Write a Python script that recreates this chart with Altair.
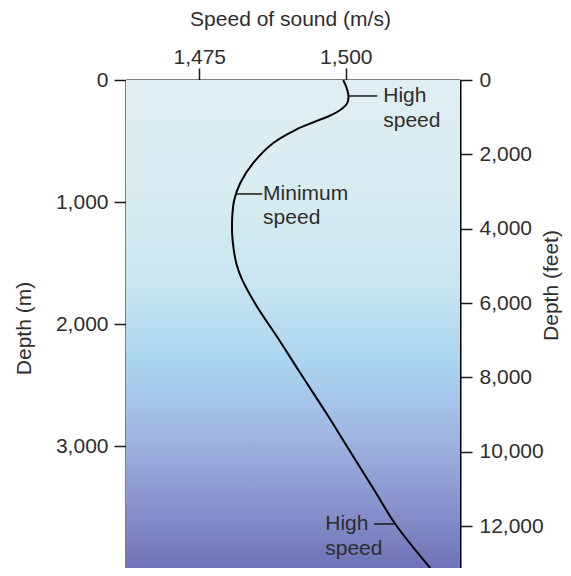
import altair as alt
import pandas as pd

# ---- data ----
curve_speed = [1499.57, 1500.17, 1500.48, 1500.17, 1499.06, 1497.18, 1494.62, 1491.38,
               1487.63, 1484.22, 1482.0, 1480.97, 1480.63, 1480.63, 1480.89, 1481.4,
               1482.34, 1484.9, 1488.31, 1492.24, 1496.67, 1500.6, 1504.86, 1508.45,
               1514.42]
curve_depth = [0, 66, 139, 197, 246, 295, 344, 410,
               516, 680, 844, 984, 1123, 1270, 1393, 1516,
               1639, 1861, 2107, 2402, 2730, 3033, 3361, 3639,
               4000]

label_text = ["High", "speed", "Minimum", "speed", "High", "speed"]
label_speed = [1506.4, 1506.4, 1485.9, 1485.9, 1496.5, 1496.5]
label_depth = [131, 336, 934, 1131, 3639, 3844]

leader_x1 = [1500.4, 1481.1, 1504.8]
leader_x2 = [1505.4, 1485.75, 1508.3]
leader_depth = [131, 934, 3639]

speed_ticks = [1475, 1500]
depth_m_ticks = [0, 1000, 2000, 3000]
depth_ft_ticks = [0, 2000, 4000, 6000, 8000, 10000, 12000]

speed_domain = [1462.5, 1519.5]
depth_domain = [0, 4000]
ft_domain = [0, 4000 * 3.28084]

FONT = "Liberation Sans"
FS = 21
TXT = "#2e2e2e"

curve = pd.DataFrame({"speed": curve_speed, "depth": curve_depth,
                      "order": list(range(len(curve_speed)))})
labels = pd.DataFrame({"text": label_text, "speed": label_speed, "depth": label_depth})
leaders = pd.DataFrame({"speed": leader_x1, "speed2": leader_x2, "depth": leader_depth})
ft = pd.DataFrame({"ft": depth_ft_ticks})
bg = pd.DataFrame({"speed": [speed_domain[0]], "speed2": [speed_domain[1]],
                   "depth": [depth_domain[0]], "depth2": [depth_domain[1]]})

xscale = alt.Scale(domain=speed_domain, nice=False, zero=False)
yscale = alt.Scale(domain=depth_domain, nice=False, zero=False, reverse=True)

common_axis = dict(
    labelFont=FONT, labelFontSize=FS, labelColor=TXT,
    titleFont=FONT, titleFontSize=FS, titleColor=TXT, titleFontWeight="normal",
    domainColor="black", domainWidth=2, tickColor="#1a1a1a", tickWidth=1.5,
    tickSize=12, grid=False, format=",d",
)

x_axis = alt.Axis(orient="top", values=speed_ticks, title="Speed of sound (m/s)",
                  labelPadding=5, labelBaseline="alphabetic",
                  titleX=164, titleY=-55, titleAlign="center",
                  titleBaseline="alphabetic", **common_axis)
y_axis = alt.Axis(orient="left", values=depth_m_ticks, title="Depth (m)",
                  labelPadding=6, titleAngle=270, titleX=-102, titleY=248,
                  titleAlign="center", titleBaseline="middle", **common_axis)

X = alt.X("speed:Q", scale=xscale, axis=x_axis, title="Speed of sound (m/s)")
Y = alt.Y("depth:Q", scale=yscale, axis=y_axis, title="Depth (m)")

gradient = alt.Gradient(
    gradient="linear", x1=0, x2=0, y1=0, y2=1,
    stops=[
        alt.GradientStop(offset=0.0, color="#dfeef2"),
        alt.GradientStop(offset=0.215, color="#d9ecf1"),
        alt.GradientStop(offset=0.42, color="#c8e5f0"),
        alt.GradientStop(offset=0.584, color="#a9d4f0"),
        alt.GradientStop(offset=0.727, color="#a0b6e1"),
        alt.GradientStop(offset=0.86, color="#8b95cf"),
        alt.GradientStop(offset=1.0, color="#6f72b6"),
    ],
)

background = alt.Chart(bg).mark_rect(fill=gradient, strokeWidth=0).encode(
    x=X, x2="speed2:Q", y=Y, y2="depth2:Q",
)

line = alt.Chart(curve).mark_line(color="black", strokeWidth=2,
                                  interpolate="catmull-rom").encode(
    x=X, y=Y, order="order:Q",
)

rules = alt.Chart(leaders).mark_rule(color="#1a1a1a", strokeWidth=1.5).encode(
    x=X, x2="speed2:Q", y=Y,
)

texts = alt.Chart(labels).mark_text(align="left", baseline="middle", font=FONT,
                                    fontSize=FS, color=TXT).encode(
    x=X, y=Y, text="text:N",
)

main = alt.layer(background, line, rules, texts)

feet = alt.Chart(ft).mark_point(opacity=0).encode(
    y=alt.Y("ft:Q",
            scale=alt.Scale(domain=ft_domain, nice=False, zero=False, reverse=True),
            axis=alt.Axis(orient="right", values=depth_ft_ticks,
                          title="Depth (feet)", labelPadding=7,
                          titleAngle=270, titleX=91, titleY=205,
                          titleAlign="center", titleBaseline="middle",
                          **common_axis)),
)

chart = alt.layer(main, feet).resolve_scale(y="independent").properties(
    width=334, height=488,
    autosize=alt.AutoSizeParams(type="none"),
    padding={"left": 118, "top": 72, "right": 103, "bottom": 0},
    background="white",
).configure_view(stroke="transparent", strokeWidth=0)

chart.save("out.html", embed_options={"renderer": "svg", "actions": False})
